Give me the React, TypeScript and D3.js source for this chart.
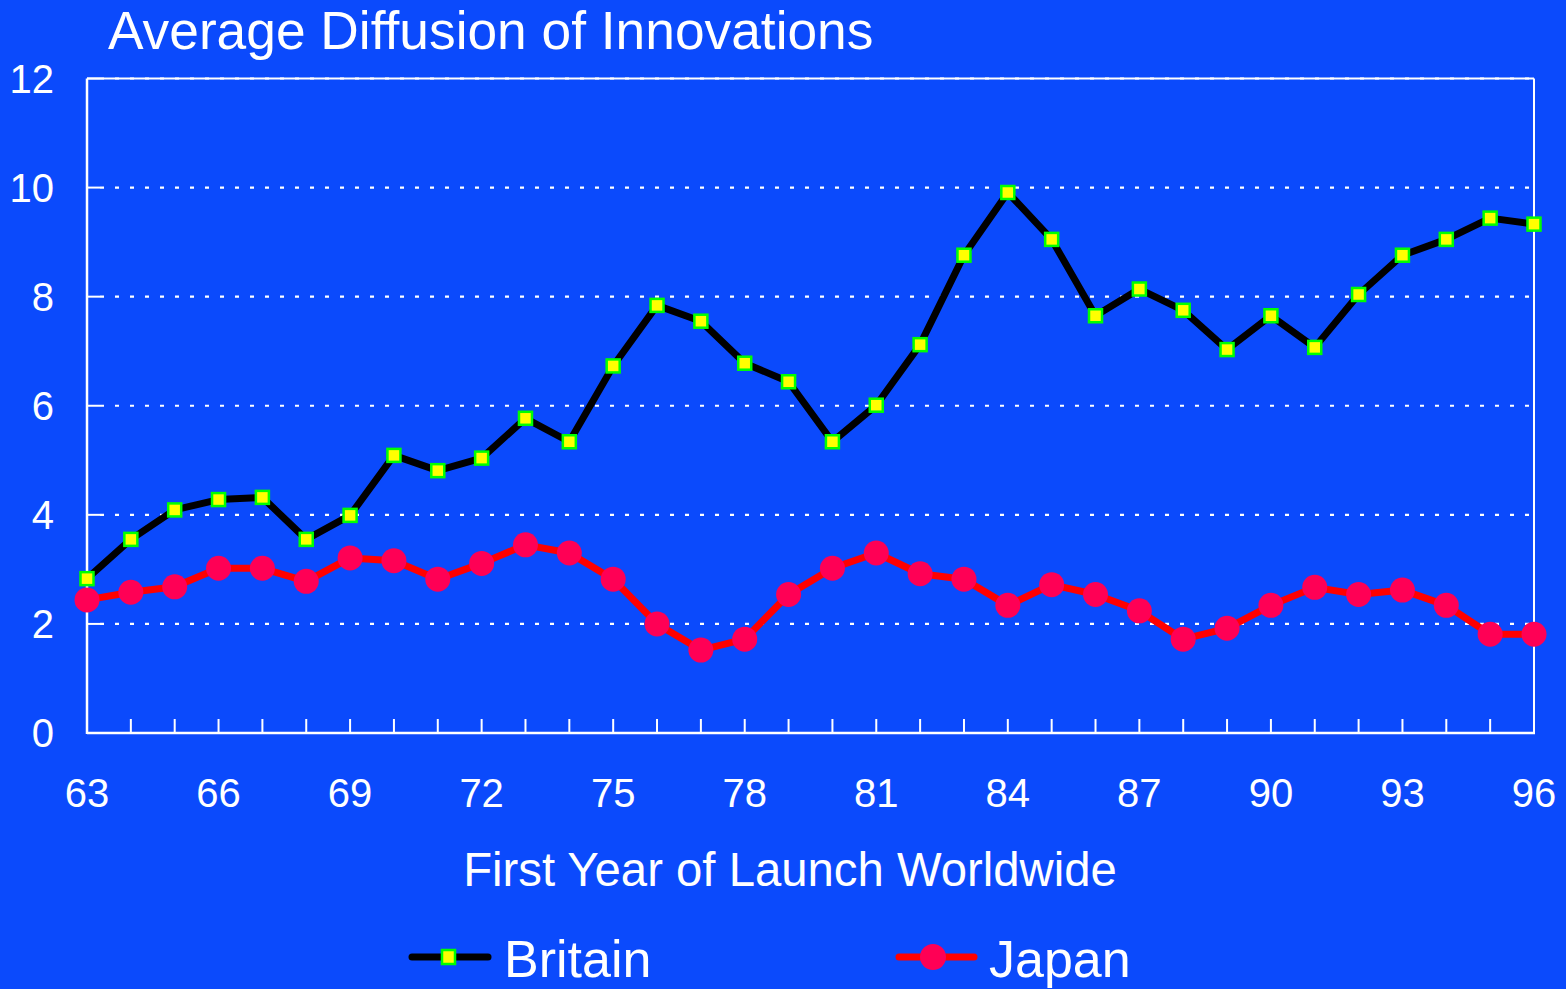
import React from "react";
import * as d3 from "d3";

const years = [63,64,65,66,67,68,69,70,71,72,73,74,75,76,77,78,79,80,81,82,83,84,85,86,87,88,89,90,91,92,93,94,95,96];
const britain = [2.83,3.55,4.09,4.28,4.32,3.55,3.99,5.09,4.81,5.04,5.77,5.34,6.73,7.84,7.55,6.78,6.44,5.34,6.01,7.12,8.76,9.91,9.05,7.65,8.14,7.75,7.03,7.65,7.07,8.04,8.76,9.05,9.44,9.33];
const japan = [2.44,2.58,2.68,3.02,3.02,2.78,3.21,3.16,2.82,3.11,3.45,3.30,2.82,2.00,1.52,1.72,2.54,3.02,3.30,2.92,2.82,2.34,2.72,2.54,2.24,1.72,1.92,2.34,2.67,2.54,2.62,2.34,1.81,1.81];
const yTicks = [0,2,4,6,8,10,12];
const xTickLabels = [63,66,69,72,75,78,81,84,87,90,93,96];

const W = 1566, H = 989;
const BG = "#0B4AFC";
const FONT = "'Liberation Sans', Arial, Helvetica, sans-serif";

export default function App() {
  const x = d3.scaleLinear().domain([63, 96]).range([87, 1534]);
  const y = d3.scaleLinear().domain([0, 12]).range([733, 78.5]);
  const line = d3.line<number>().x((_, i) => x(years[i])).y((d) => y(d));
  const x0 = x(63), x1 = x(96), y0 = y(0), y1 = y(12);

  return (
    <svg width={W} height={H} style={{ position: "absolute", left: 0, top: 0, display: "block" }} fontFamily={FONT}>
      <rect x={0} y={0} width={W} height={H} fill={BG} />
      <text x={108} y={49} fill="#fff" fontSize={53.3}>Average Diffusion of Innovations</text>

      {/* gridlines */}
      {yTicks.filter((t) => t > 0).map((t) => (
        <line key={"g" + t} x1={x0 + 13} x2={x1} y1={y(t)} y2={y(t)} stroke="#fff" strokeWidth={2.2} strokeDasharray="4 11" />
      ))}
      {/* frame */}
      <line x1={x0} x2={x1} y1={y1} y2={y1} stroke="#fff" strokeWidth={2} />
      <line x1={x1} x2={x1} y1={y1} y2={y0} stroke="#fff" strokeWidth={2} />
      <line x1={x0} x2={x0} y1={y1} y2={y0 + 1} stroke="#fff" strokeWidth={2.5} />
      <line x1={x0} x2={x1 + 1} y1={y0} y2={y0} stroke="#fff" strokeWidth={2.5} />
      {/* y ticks */}
      {yTicks.map((t) => (
        <g key={"y" + t}>
          <line x1={x0} x2={x0 + 13} y1={y(t)} y2={y(t)} stroke="#fff" strokeWidth={2} />
          <text x={54} y={y(t) + 14.3} fill="#fff" fontSize={40} textAnchor="end">{t}</text>
        </g>
      ))}
      {/* x ticks */}
      {years.map((yr) => (
        <line key={"x" + yr} x1={x(yr)} x2={x(yr)} y1={y0} y2={y0 - 14} stroke="#fff" strokeWidth={2} />
      ))}
      {xTickLabels.map((yr) => (
        <text key={"xl" + yr} x={x(yr)} y={807} fill="#fff" fontSize={40} textAnchor="middle">{yr}</text>
      ))}
      <text x={790} y={886} fill="#fff" fontSize={47.3} textAnchor="middle">First Year of Launch Worldwide</text>

      {/* Britain */}
      <path d={line(britain) || ""} fill="none" stroke="#000" strokeWidth={7} strokeLinejoin="round" />
      {britain.map((v, i) => (
        <rect key={"b" + i} x={x(years[i]) - 6.5} y={y(v) - 6.5} width={13} height={13} fill="#FFFF00" stroke="#00FF00" strokeWidth={2.5} />
      ))}
      {/* Japan */}
      <path d={line(japan) || ""} fill="none" stroke="#FF0000" strokeWidth={7} strokeLinejoin="round" />
      {japan.map((v, i) => (
        <circle key={"j" + i} cx={x(years[i])} cy={y(v)} r={12.5} fill="#FF0055" />
      ))}

      {/* legend */}
      <line x1={412} x2={488} y1={957} y2={957} stroke="#000" strokeWidth={7} strokeLinecap="round" />
      <rect x={442} y={950} width={13} height={14} fill="#FFFF00" stroke="#00FF00" strokeWidth={2.5} />
      <text x={504} y={977} fill="#fff" fontSize={52}>Britain</text>
      <line x1={899} x2={974} y1={957} y2={957} stroke="#FF0000" strokeWidth={7} strokeLinecap="round" />
      <circle cx={933} cy={957} r={13} fill="#FF0055" />
      <text x={989} y={977} fill="#fff" fontSize={52}>Japan</text>
    </svg>
  );
}
